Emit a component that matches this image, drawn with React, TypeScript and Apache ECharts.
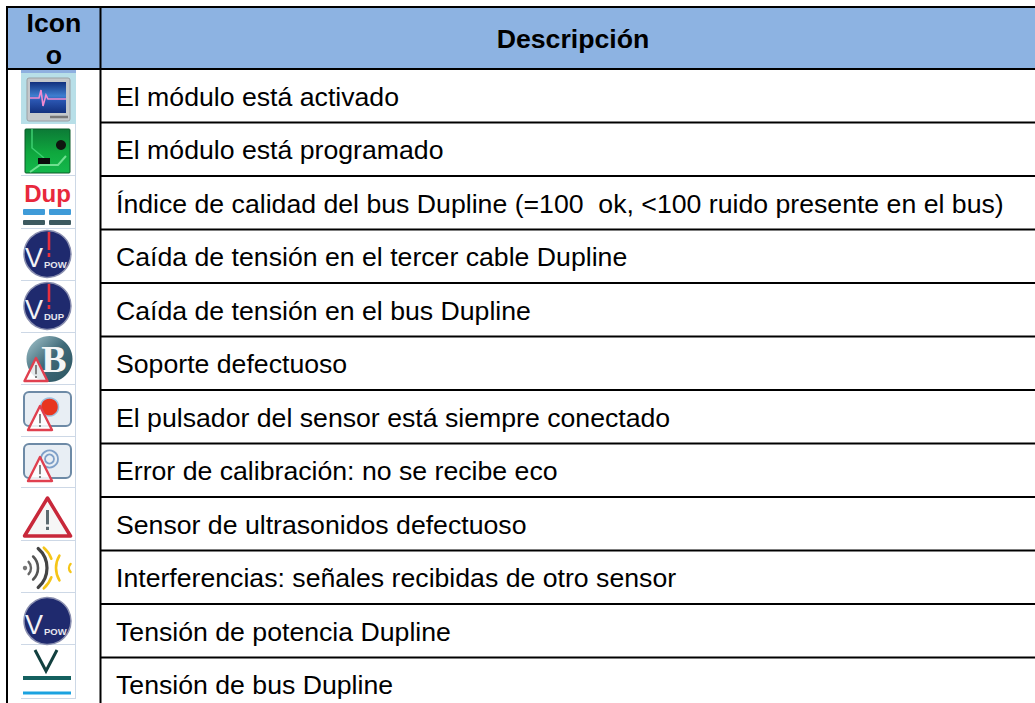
import React, { useEffect, useRef } from "react";
import * as echarts from "echarts";

const headerIcon = ["Icon", "o"];
const headerDescription = "Descripción";
const descriptions = [
  "El módulo está activado",
  "El módulo está programado",
  "Índice de calidad del bus Dupline (=100  ok, <100 ruido presente en el bus)",
  "Caída de tensión en el tercer cable Dupline",
  "Caída de tensión en el bus Dupline",
  "Soporte defectuoso",
  "El pulsador del sensor está siempre conectado",
  "Error de calibración: no se recibe eco",
  "Sensor de ultrasonidos defectuoso",
  "Interferencias: señales recibidas de otro sensor",
  "Tensión de potencia Dupline",
  "Tensión de bus Dupline",
];
const rowLineY = [69, 122.5, 176, 229.5, 283, 336.5, 390, 443.5, 497, 550.5, 604, 657.5];
const iconFrameBottom = [124, 176, 229, 281, 333, 385, 437, 488, 541, 593, 645, 699];

const FONT = "'Liberation Sans', Arial, sans-serif";
const NAVY = "#1f2a6e";
const RED = "#e0404f";

const rect = (x: number, y: number, w: number, h: number, fill: any, r = 0, stroke?: string, lw = 0) => ({
  type: "rect", shape: { x, y, width: w, height: h, r }, style: { fill, stroke, lineWidth: lw }, silent: true,
});
const line = (x1: number, y1: number, x2: number, y2: number, stroke: string, lw: number) => ({
  type: "line", shape: { x1, y1, x2, y2 }, style: { stroke, lineWidth: lw }, silent: true,
});
const text = (x: number, y: number, t: string, size: number, fill: string, weight = "normal", align = "left", family = FONT) => ({
  type: "text", x, y, silent: true,
  style: { text: t, fontSize: size, fontWeight: weight, fontFamily: family, fill, align, verticalAlign: "middle" },
});
const poly = (pts: number[][], stroke: string, lw: number) => ({
  type: "polyline", shape: { points: pts }, style: { stroke, lineWidth: lw, fill: "none" }, silent: true,
});
const tri = (cx: number, top: number, w: number, h: number, stroke: string, lw: number) => ({
  type: "polygon", shape: { points: [[cx, top], [cx + w / 2, top + h], [cx - w / 2, top + h]] },
  style: { fill: "rgba(255,255,255,0.85)", stroke, lineWidth: lw, lineJoin: "round" }, silent: true,
});
const bang = (cx: number, top: number, h: number, c: string, w = 1.6) => [
  line(cx, top, cx, top + h * 0.72, c, w),
  line(cx, top + h * 0.84, cx, top + h, c, w),
];
const arc = (cx: number, cy: number, r: number, a0: number, a1: number, stroke: string, lw: number) => ({
  type: "arc", shape: { cx, cy, r, startAngle: a0, endAngle: a1, clockwise: true },
  style: { stroke, lineWidth: lw, fill: "none", lineCap: "round" }, silent: true,
});
const vgrad = (stops: [number, string][]) =>
  new echarts.graphic.LinearGradient(0, 0, 0, 1, stops.map(([offset, color]) => ({ offset, color })));
const dgrad = (stops: [number, string][]) =>
  new echarts.graphic.LinearGradient(0, 0, 1, 1, stops.map(([offset, color]) => ({ offset, color })));

const badge = (cy: number, sub: string, alert: boolean) => [
  { type: "circle", shape: { cx: 47.5, cy, r: 23.5 }, style: { fill: NAVY, stroke: "#8a8fb0", lineWidth: 1.5 }, silent: true },
  text(25, cy + 4, "V", 27, "#f2f2f6", "normal", "left"),
  text(44, cy + 10, sub, 9.5, "#e6e6ee", "bold", "left"),
  ...(alert ? bang(49, cy - 22, 25, "#e8303f", 2.6) : []),
];

function iconElements() {
  const frames = iconFrameBottom.flatMap((b, i) => {
    const t = i === 0 ? 69 : iconFrameBottom[i - 1];
    return [line(75.5, t, 75.5, b, "#cdd8e6", 1), line(21, b - 0.5, 76, b - 0.5, "#cdd8e6", 1)];
  });
  return [
    ...frames,
    // monitor
    rect(21, 69, 55, 55, "#b8dfe8"),
    rect(21, 69, 55, 4, "#8fb0e0"),
    rect(27, 78, 43, 43, "#c4c8cb", 2, "#9aa0a4", 1),
    rect(30, 82, 36, 31, vgrad([[0, "#12307e"], [0.45, "#3f7fd0"], [0.6, "#2a55b0"], [1, "#12307e"]])),
    poly([[30, 98], [39, 98], [41, 90], [43, 106], [46, 95], [48, 99], [66, 99]], "#f08ad0", 1.6),
    line(50, 117, 68, 117, "#777", 2.5),
    // board
    rect(25, 129, 45, 44, vgrad([[0, "#0c7a36"], [0.55, "#0fa83e"], [1, "#14b84c"]]), 1, "#0b5a28", 1),
    poly([[32, 129], [32, 148], [44, 158]], "#3ccf70", 1.5),
    poly([[30, 172], [40, 165], [58, 165], [66, 156]], "#6fe090", 2),
    { type: "circle", shape: { cx: 61, cy: 145, r: 5 }, style: { fill: "#101510" }, silent: true },
    rect(38, 158, 12, 6, "#0a0a0a"),
    // Dup
    text(47.5, 193, "Dup", 24, "#e8283c", "bold", "center"),
    rect(23, 209, 22, 6, "#3f9bd8", 1), rect(49, 209, 22, 6, "#3f9bd8", 1),
    rect(23, 220, 22, 5, "#3d5a60", 1), rect(49, 220, 22, 5, "#3d5a60", 1),
    // badges
    ...badge(254, "POW", true),
    ...badge(306, "DUP", true),
    // B
    { type: "circle", shape: { cx: 49.5, cy: 359, r: 23 }, style: { fill: dgrad([[0, "#a8c8d0"], [0.5, "#3f6a78"], [1, "#2c5561"]]) }, silent: true },
    text(54, 359, "B", 38, "#f4f6f6", "bold", "center", "'Liberation Serif', serif"),
    tri(36, 358, 23, 23, RED, 2.4),
    ...bang(36, 365, 13, "#666", 1.6),
    // push button
    rect(24, 392, 47, 34, "#e8eef4", 5, "#6d8aa6", 2),
    { type: "circle", shape: { cx: 49.5, cy: 407, r: 9 }, style: { fill: "#e8351f", stroke: "#9cc0de", lineWidth: 1.5 }, silent: true },
    tri(40, 406, 24, 24, RED, 2.4),
    ...bang(40, 414, 13, "#666", 1.6),
    // calibration
    rect(24, 444, 47, 34, "#e8eef4", 5, "#6d8aa6", 2),
    { type: "circle", shape: { cx: 49.5, cy: 459, r: 8.5 }, style: { fill: "#e8eef4", stroke: "#7fa0c8", lineWidth: 1.8 }, silent: true },
    { type: "circle", shape: { cx: 49.5, cy: 459, r: 4.5 }, style: { fill: "#e8eef4", stroke: "#7fa0c8", lineWidth: 1.8 }, silent: true },
    tri(40, 457, 24, 24, RED, 2.4),
    ...bang(40, 465, 13, "#666", 1.6),
    // warning
    { type: "polygon", shape: { points: [[47.5, 498], [70.5, 536], [24.5, 536]] }, style: { fill: "#f6f6f6", stroke: "#c8283a", lineWidth: 3.5, lineJoin: "round" }, silent: true },
    ...bang(47.5, 510, 20, "#5c6a70", 3),
    // interference
    { type: "circle", shape: { cx: 25, cy: 568, r: 2.2 }, style: { fill: "#777" }, silent: true },
    arc(22, 568, 9, -0.75, 0.75, "#666", 2.4),
    arc(22, 568, 16, -0.8, 0.8, "#555", 2.6),
    arc(26, 568, 27, -0.85, -0.35, "#f5c518", 2.6),
    arc(26, 568, 27, 0.35, 0.85, "#f5c518", 2.6),
    arc(21, 568, 26, -0.85, 0.85, "#444", 3.2),
    arc(80, 568, 24, 2.6, 3.68, "#f5c518", 2.6),
    arc(75, 568, 6, 2.4, 3.88, "#f5c518", 2.4),
    // V pow
    ...badge(621, "POW", false),
    // V bus
    poly([[35, 650], [46, 671], [57, 650]], "#12403f", 3),
    line(23, 678, 71, 678, "#14605f", 4),
    line(23, 693, 71, 693, "#1aa2e0", 3),
  ];
}

export default function App() {
  const ref = useRef<HTMLDivElement>(null);
  useEffect(() => {
    const chart = echarts.init(ref.current!, undefined, { renderer: "svg" });
    const W = 1035;
    const H = 703;
    const elements: any[] = [
      rect(0, 0, W, H, "#ffffff"),
      rect(8, 8, W - 8, 60, "#8db3e2"),
      ...iconElements(),
      line(6, 7, W, 7, "#000", 2),
      ...rowLineY.map((y) => line(y === 69 ? 6 : 100, y, W, y, "#000", 2)),
      line(7, 6, 7, H, "#000", 2),
      line(100.5, 6, 100.5, H, "#000", 2),
      text(54, 23, headerIcon[0], 26.67, "#000", "bold", "center"),
      text(54, 55, headerIcon[1], 26.67, "#000", "bold", "center"),
      text(573, 39, headerDescription, 26.67, "#000", "bold", "center"),
      ...descriptions.map((d, i) => text(116, 97 + i * 53.45, d, 26.67, "#000")),
    ];
    chart.setOption({ animation: false, graphic: { elements } });
    return () => chart.dispose();
  }, []);
  return <div ref={ref} style={{ position: "absolute", left: 0, top: 0, width: 1035, height: 703 }} />;
}
